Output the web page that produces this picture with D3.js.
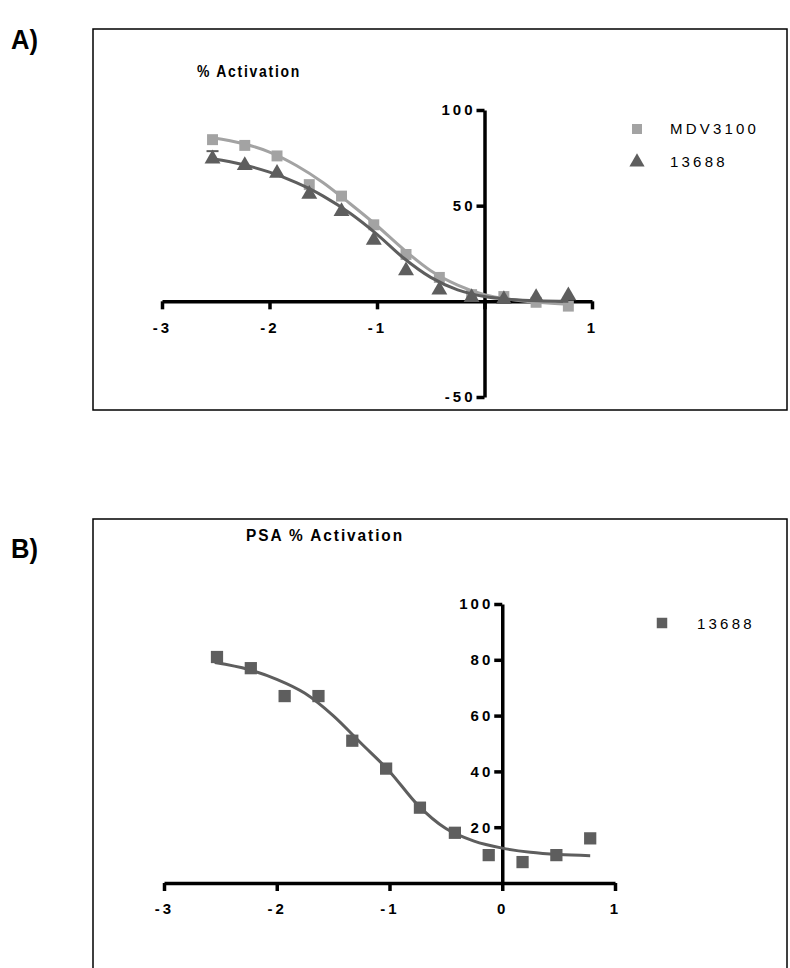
<!DOCTYPE html>
<html>
<head>
<meta charset="utf-8">
<script src="https://cdn.jsdelivr.net/npm/d3@7"></script>
<style>
  body { margin: 0; background: #fff; }
  svg text { font-family: "Liberation Sans", Arial, sans-serif; }
</style>
</head>
<body>
<script>
/* log concentration, same dilution series in both panels */
const logConc = [-2.53, -2.23, -1.93, -1.63, -1.33, -1.03, -0.73, -0.42, -0.12, 0.18, 0.48, 0.78];

/* panel A: % activation */
const mdvValues = [84.5, 81.5, 76, 61, 55, 40, 24.5, 12.5, 3.5, 2.5, -0.5, -2.5];
const cpdValuesA = [74.5, 71, 67, 56, 47, 32, 16, 6, 2, 1, 2, 3];
const cpdErrTopA = 78.5;   // error cap on first triangle

/* fitted curves */
const curveX = [-2.53, -2.25, -2.0, -1.75, -1.5, -1.25, -1.0, -0.75, -0.5, -0.25, 0, 0.25, 0.5, 0.78];
const mdvCurve = [85.5, 82.5, 78, 71, 62, 51, 39.5, 27, 16, 8.5, 3.5, 1, -0.5, -1.5];
const cpdCurveA = [74.5, 71.5, 67.5, 62, 55, 46, 35, 22.5, 12.5, 6, 2.5, 1, 0.3, 0];

/* panel B: PSA % activation */
const psaValues = [81, 77, 67, 67, 51, 41, 27, 18, 10, 7.5, 10, 16];
const psaCurveX = [-2.55, -2.25, -2.0, -1.75, -1.5, -1.25, -1.0, -0.75, -0.5, -0.25, 0, 0.25, 0.5, 0.78];
const psaCurve = [79, 76.5, 73, 68, 60, 50, 40, 28, 19.5, 15, 12.5, 11, 10.2, 9.8];

const xTicks = [-3, -2, -1, 0, 1];
const yTicksA = [-50, 50, 100];
const yTicksB = [20, 40, 60, 80, 100];

const lightGray = "#a3a3a3";
const darkGray = "#5e5e5e";

const width = 790, height = 968;
const svg = d3.select("body").append("svg").attr("width", width).attr("height", height);

/* frames */
svg.append("rect").attr("x", 93).attr("y", 29).attr("width", 694).attr("height", 381)
   .attr("fill", "none").attr("stroke", "#000").attr("stroke-width", 1.5);
svg.append("rect").attr("x", 93).attr("y", 519).attr("width", 694).attr("height", 470)
   .attr("fill", "none").attr("stroke", "#000").attr("stroke-width", 1.5);

/* panel letters (condensed bold) */
svg.append("text").attr("x", 11).attr("y", 49).attr("textLength", 27).attr("lengthAdjust", "spacingAndGlyphs")
   .style("font-size", "27px").style("font-weight", "bold").text("A)");
svg.append("text").attr("x", 11).attr("y", 558).attr("textLength", 27).attr("lengthAdjust", "spacingAndGlyphs")
   .style("font-size", "27px").style("font-weight", "bold").text("B)");

/* axis styling helper */
function styleAxis(g) {
  g.select(".domain").attr("stroke-width", 3.5);
  g.selectAll(".tick line").attr("stroke-width", 3.5);
  g.selectAll(".tick text")
   .style("font-size", "15px").style("font-weight", "bold")
   .style("letter-spacing", "3px").style("font-family", "Liberation Sans, Arial");
}

const square = d3.symbol().type(d3.symbolSquare);
const triangle = d3.symbol().type(d3.symbolTriangle);

/* ---------- panel A ---------- */
const xA = d3.scaleLinear().domain([-3, 1]).range([162, 592]);
const yA = d3.scaleLinear().domain([-50, 100]).range([397, 110]);

svg.append("text").attr("x", 197).attr("y", 77)
   .attr("textLength", 104).attr("lengthAdjust", "spacingAndGlyphs")
   .style("font-size", "16px").style("font-weight", "bold")
   .style("letter-spacing", "2px").text("% Activation");

svg.append("g").attr("transform", "translate(0," + yA(0) + ")")
   .call(d3.axisBottom(xA).tickValues(xTicks).tickSize(8).tickSizeOuter(0).tickPadding(13)
         .tickFormat(d => d === 0 ? "" : String(d)))
   .call(styleAxis);
svg.append("g").attr("transform", "translate(" + xA(0) + ",0)")
   .call(d3.axisLeft(yA).tickValues(yTicksA).tickSize(8).tickSizeOuter(0).tickPadding(1)
         .tickFormat(d => String(d)))
   .call(styleAxis);

const lineA = d3.line().x(d => xA(d[0])).y(d => yA(d[1])).curve(d3.curveMonotoneX);

svg.append("path").datum(d3.zip(curveX, mdvCurve)).attr("d", lineA)
   .attr("fill", "none").attr("stroke", lightGray).attr("stroke-width", 3);
svg.append("g").selectAll("path").data(d3.zip(logConc, mdvValues)).enter().append("path")
   .attr("d", square.size(120)())
   .attr("transform", d => "translate(" + xA(d[0]) + "," + yA(d[1]) + ")")
   .attr("fill", lightGray);

svg.append("path").datum(d3.zip(curveX, cpdCurveA)).attr("d", lineA)
   .attr("fill", "none").attr("stroke", darkGray).attr("stroke-width", 3);
/* error bar on first triangle */
svg.append("line").attr("x1", xA(logConc[0])).attr("x2", xA(logConc[0]))
   .attr("y1", yA(cpdValuesA[0])).attr("y2", yA(cpdErrTopA))
   .attr("stroke", darkGray).attr("stroke-width", 2);
svg.append("line").attr("x1", xA(logConc[0]) - 6).attr("x2", xA(logConc[0]) + 6)
   .attr("y1", yA(cpdErrTopA)).attr("y2", yA(cpdErrTopA))
   .attr("stroke", darkGray).attr("stroke-width", 2);
svg.append("g").selectAll("path").data(d3.zip(logConc, cpdValuesA)).enter().append("path")
   .attr("d", triangle.size(110)())
   .attr("transform", d => "translate(" + xA(d[0]) + "," + yA(d[1]) + ")")
   .attr("fill", darkGray);

/* legend A */
const legendA = [
  { name: "MDV3100", sym: square, color: lightGray, y: 129 },
  { name: "13688", sym: triangle, color: darkGray, y: 162 }
];
legendA.forEach(l => {
  svg.append("path").attr("d", l.sym.size(100)()).attr("fill", l.color)
     .attr("transform", "translate(637," + l.y + ")");
  svg.append("text").attr("x", 670).attr("y", l.y + 5)
     .style("font-size", "15px").style("letter-spacing", "3.2px").text(l.name);
});

/* ---------- panel B ---------- */
const xB = d3.scaleLinear().domain([-3, 1]).range([164, 615]);
const yB = d3.scaleLinear().domain([0, 100]).range([883, 604]);

svg.append("text").attr("x", 246).attr("y", 541)
   .attr("textLength", 158).attr("lengthAdjust", "spacingAndGlyphs")
   .style("font-size", "16px").style("font-weight", "bold")
   .style("letter-spacing", "2px").text("PSA % Activation");

svg.append("g").attr("transform", "translate(0," + yB(0) + ")")
   .call(d3.axisBottom(xB).tickValues(xTicks).tickSize(8).tickSizeOuter(0).tickPadding(12)
         .tickFormat(d => String(d)))
   .call(styleAxis);
svg.append("g").attr("transform", "translate(" + xB(0) + ",0)")
   .call(d3.axisLeft(yB).tickValues(yTicksB).tickSize(8).tickSizeOuter(0).tickPadding(1)
         .tickFormat(d => String(d)))
   .call(styleAxis);

const lineB = d3.line().x(d => xB(d[0])).y(d => yB(d[1])).curve(d3.curveMonotoneX);
svg.append("path").datum(d3.zip(psaCurveX, psaCurve)).attr("d", lineB)
   .attr("fill", "none").attr("stroke", darkGray).attr("stroke-width", 3);
svg.append("g").selectAll("path").data(d3.zip(logConc, psaValues)).enter().append("path")
   .attr("d", square.size(150)())
   .attr("transform", d => "translate(" + xB(d[0]) + "," + yB(d[1]) + ")")
   .attr("fill", darkGray);

/* legend B */
svg.append("path").attr("d", square.size(110)()).attr("fill", darkGray)
   .attr("transform", "translate(662,623)");
svg.append("text").attr("x", 697).attr("y", 629)
   .style("font-size", "15px").style("letter-spacing", "3.2px").text("13688");
</script>
</body>
</html>
